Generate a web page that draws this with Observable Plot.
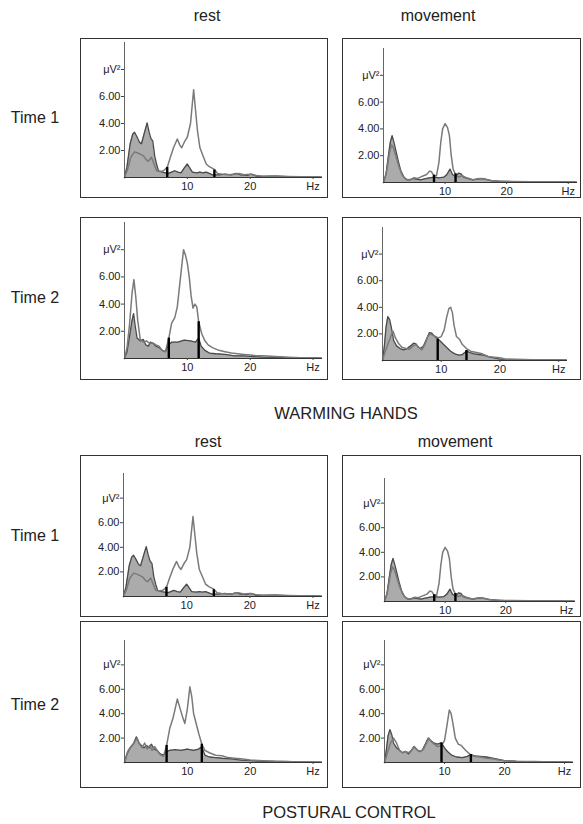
<!DOCTYPE html>
<html><head><meta charset="utf-8">
<script src="https://cdn.jsdelivr.net/npm/d3@7"></script>
<script src="https://cdn.jsdelivr.net/npm/@observablehq/plot@0.6"></script>
<style>
body{margin:0;background:#fff}
#root{position:relative;width:583px;height:824px;font-family:"Liberation Sans",Arial,Helvetica,sans-serif;color:#222;overflow:hidden}
.lbl{position:absolute;transform:translate(-50%,-50%);white-space:nowrap;font-size:16px;line-height:1}
.box{position:absolute;border:1.5px solid #333;box-sizing:border-box;pointer-events:none}
.plot{position:absolute}
</style></head>
<body><div id="root"></div>
<script>
// ---------- text ----------
const columnTitles = ["rest", "movement"];
const rowLabels = ["Time 1", "Time 2"];
const groupTitles = ["WARMING HANDS", "POSTURAL CONTROL"];
const yTicks = [2, 4, 6, 8];
const yTickLabels = ["2.00", "4.00", "6.00", "μV²"];
const xTicks = [10, 20, 30];
const xTickLabels = ["10", "20", "Hz"];

// ---------- spectra: [Hz, µV²] ; A = outlined spectrum, B = grey-filled spectrum ----------
const whRestT1A = [[0,0],[0.5,0.6],[1,1.5],[1.6,1.9],[2.2,1.8],[3,1.6],[3.5,1.3],[3.8,1.2],[4.3,1.5],[4.7,1.0],[5.1,0.5],[5.6,0.45],[6.2,0.5],[6.8,0.75],[7.3,1.5],[7.8,2.2],[8.4,2.85],[8.8,2.4],[9.1,2.2],[9.6,2.7],[10,3.0],[10.5,4.0],[10.8,5.5],[11,6.5],[11.3,5.0],[11.6,3.5],[12,2.2],[12.5,1.6],[13,1.0],[13.5,0.8],[14.3,0.6],[14.8,0.3],[15.5,0.25],[16.5,0.2],[17.5,0.25],[18.2,0.3],[19,0.2],[20,0.25],[21,0.15],[22,0.1],[24,0.12],[26,0.08],[28,0.06],[30,0.05],[31.3,0.03]];
const whRestT1B = [[0,0],[0.4,0.8],[0.9,2.5],[1.3,3.2],[1.6,3.35],[2.0,3.0],[2.4,2.6],[2.7,2.5],[3.1,3.2],[3.6,4.05],[3.9,3.4],[4.2,2.9],[4.5,2.7],[4.8,1.6],[5.1,1.0],[5.4,0.5],[6,0.4],[6.5,0.35],[7,0.3],[7.5,0.4],[8,0.5],[8.5,0.4],[9,0.35],[9.5,0.7],[10,1.0],[10.4,0.7],[10.8,0.4],[11.5,0.35],[12,0.4],[12.5,0.35],[13,0.4],[13.5,0.3],[14,0.2],[15,0.2],[16,0.25],[17,0.2],[17.8,0.3],[18.5,0.2],[19.5,0.15],[20.2,0.25],[21,0.1],[22,0.08],[24,0.1],[26,0.06],[28,0.05],[30,0.04],[31.3,0.03]];
const whRestT1Bands = [[6.8,0.75],[14.3,0.55]];

const whMovT1A = [[0,0],[0.5,0.8],[1,2.3],[1.3,2.8],[1.6,2.6],[2,2.0],[2.5,1.2],[3,0.6],[3.5,0.3],[4,0.2],[4.5,0.25],[5,0.35],[5.5,0.3],[6,0.4],[6.5,0.5],[7,0.6],[7.5,0.85],[7.8,0.8],[8.2,0.5],[8.6,0.5],[9,1.5],[9.3,3.0],[9.6,4.0],[10,4.4],[10.4,4.1],[10.7,3.5],[11,2.0],[11.3,1.0],[11.7,0.6],[12.2,0.4],[12.8,0.5],[13.5,0.35],[14.5,0.2],[15.5,0.3],[16.5,0.25],[17.5,0.15],[19,0.1],[21,0.08],[24,0.06],[27,0.05],[30,0.04],[31.3,0.03]];
const whMovT1B = [[0,0],[0.4,0.6],[0.8,2.0],[1.1,3.0],[1.4,3.5],[1.7,3.0],[2,2.4],[2.4,1.6],[2.8,0.9],[3.3,0.4],[3.8,0.2],[4.3,0.2],[4.8,0.3],[5.3,0.25],[6,0.2],[6.5,0.25],[7,0.3],[7.5,0.35],[8.2,0.4],[9,0.35],[9.8,0.4],[10.3,0.6],[10.8,1.0],[11.2,0.6],[11.7,0.45],[12.2,0.7],[12.6,0.65],[13,0.4],[13.6,0.3],[14.5,0.2],[15.3,0.25],[15.9,0.3],[16.5,0.25],[17.3,0.15],[18.5,0.1],[20,0.06],[23,0.05],[26,0.04],[31.3,0.03]];
const whMovT1Bands = [[8.2,0.55],[11.7,0.65]];

const whRestT2A = [[0,0],[0.4,0.8],[0.8,2.5],[1.2,4.8],[1.5,5.8],[1.8,4.5],[2.1,2.8],[2.5,1.4],[3,1.2],[3.5,1.3],[4,1.1],[4.5,1.15],[5,1.0],[5.5,0.9],[6,0.6],[6.5,0.5],[7.05,1.5],[7.5,2.6],[8,3.0],[8.4,3.8],[8.8,5.5],[9.2,7.2],[9.4,8.0],[9.7,7.6],[10,7.0],[10.3,6.0],[10.6,4.6],[10.9,3.7],[11.2,4.0],[11.5,3.8],[11.8,2.7],[12.3,1.8],[12.8,1.3],[13.3,1.0],[14,0.8],[15,0.6],[16,0.5],[17,0.4],[18,0.35],[19,0.3],[20,0.25],[21,0.2],[22,0.2],[24,0.15],[26,0.1],[28,0.06],[30,0.05],[31.3,0.03]];
const whRestT2B = [[0,0],[0.4,0.5],[0.8,1.6],[1.2,2.8],[1.45,3.3],[1.7,2.4],[2,1.5],[2.5,1.3],[3,1.4],[3.4,1.0],[3.8,0.9],[4.1,1.2],[4.6,1.1],[5,0.9],[5.5,0.8],[6,0.6],[6.5,0.5],[7,1.0],[7.5,1.2],[8.5,1.2],[9.5,1.35],[10.5,1.3],[11.3,1.2],[11.8,1.5],[12.2,0.9],[12.8,0.6],[13.5,0.4],[14.5,0.35],[16,0.3],[17.5,0.2],[19,0.2],[20,0.15],[22,0.1],[25,0.08],[28,0.05],[31.3,0.03]];
const whRestT2Bands = [[7.05,1.5],[11.8,2.7]];

const whMovT2A = [[0,0],[0.4,0.6],[0.9,1.2],[1.4,1.8],[1.8,2.2],[2.2,1.7],[2.7,1.3],[3.3,1.0],[4,0.9],[4.6,0.85],[5.2,1.1],[5.7,1.2],[6.2,1.0],[6.7,0.8],[7.2,1.2],[7.7,1.8],[8.1,2.0],[8.6,1.9],[9.1,1.8],[9.5,1.7],[10,1.8],[10.5,2.3],[10.9,3.2],[11.3,3.9],[11.6,4.0],[11.9,3.6],[12.2,2.6],[12.6,1.8],[13.1,1.6],[13.6,1.2],[14.3,0.9],[15,0.7],[16,0.6],[17,0.5],[18,0.3],[19,0.25],[20,0.2],[21,0.1],[23,0.08],[26,0.06],[28,0.05],[31.3,0.03]];
const whMovT2B = [[0,0],[0.3,1.0],[0.6,2.5],[0.9,3.3],[1.2,3.1],[1.5,2.5],[1.9,1.5],[2.4,1.1],[3,0.9],[3.6,0.8],[4.2,0.9],[4.8,1.1],[5.3,1.3],[5.7,1.25],[6.1,1.0],[6.5,0.9],[7,1.1],[7.5,1.6],[8,2.1],[8.4,2.05],[8.9,1.8],[9.5,1.6],[10.2,1.3],[10.9,1.0],[11.6,0.7],[12.3,0.5],[13,0.4],[13.6,0.45],[14.3,0.7],[14.9,0.6],[15.6,0.5],[16.4,0.45],[17.2,0.4],[18,0.3],[19,0.2],[20,0.1],[22,0.08],[25,0.06],[28,0.05],[31.3,0.03]];
const whMovT2Bands = [[9.4,1.6],[14.3,0.75]];

const pcRestT1A = whRestT1A;   // identical spectrum in the figure
const pcRestT1B = whRestT1B;
const pcRestT1Bands = [[6.8,0.75],[14.3,0.55]];

const pcMovT1A = whMovT1A;     // identical spectrum in the figure
const pcMovT1B = whMovT1B;
const pcMovT1Bands = [[8.2,0.55],[11.7,0.65]];

const pcRestT2A = [[0,0],[0.5,0.9],[1,1.3],[1.5,1.6],[2,2.0],[2.4,1.5],[2.8,1.2],[3.2,1.6],[3.6,1.1],[4,1.4],[4.4,1.0],[4.8,1.3],[5.3,0.9],[5.8,0.6],[6.2,0.5],[6.7,1.4],[7.2,2.8],[7.7,3.6],[8.1,4.5],[8.4,5.2],[8.8,4.5],[9.2,3.8],[9.6,3.2],[10,4.4],[10.4,6.2],[10.7,5.4],[11,4.0],[11.4,3.2],[11.8,2.4],[12.3,1.5],[12.8,1.0],[13.5,0.8],[14.5,0.6],[15.5,0.55],[16.5,0.4],[17.5,0.35],[18.5,0.3],[20,0.2],[22,0.15],[24,0.1],[27,0.06],[31.3,0.03]];
const pcRestT2B = [[0,0],[0.4,0.7],[0.9,1.2],[1.4,1.5],[1.9,2.1],[2.3,1.6],[2.7,1.4],[3.1,1.2],[3.5,1.4],[3.9,1.2],[4.3,1.5],[4.7,1.1],[5.2,1.0],[5.7,0.7],[6.2,0.6],[6.7,0.9],[7.2,1.0],[8,1.05],[9,1.0],[10,1.1],[11,1.0],[11.8,1.1],[12.3,1.3],[12.8,0.6],[13.5,0.45],[14.5,0.4],[15.5,0.35],[17,0.3],[18.5,0.2],[20,0.15],[22,0.1],[25,0.08],[28,0.05],[31.3,0.03]];
const pcRestT2Bands = [[6.7,1.4],[12.3,1.5]];

const pcMovT2A = [[0,0],[0.5,0.8],[1,1.6],[1.5,2.0],[2,1.6],[2.5,1.0],[3,0.8],[3.5,0.9],[4,0.8],[4.5,1.0],[5,1.3],[5.5,1.0],[6,0.9],[6.5,1.1],[7,1.6],[7.4,2.0],[7.8,1.7],[8.3,1.5],[8.8,1.3],[9.5,1.4],[10,1.8],[10.4,3.0],[10.8,4.3],[11.1,4.0],[11.4,3.2],[11.8,2.0],[12.3,1.5],[12.8,1.4],[13.5,1.0],[14.4,0.6],[15,0.5],[16,0.45],[17,0.35],[18,0.3],[19,0.2],[20,0.15],[22,0.1],[25,0.08],[28,0.05],[31.3,0.03]];
const pcMovT2B = [[0,0],[0.3,1.0],[0.6,2.2],[0.9,2.7],[1.2,2.3],[1.5,1.6],[2,1.2],[2.5,1.0],[3,0.8],[3.5,0.9],[4,0.7],[4.5,1.0],[4.9,1.3],[5.3,1.1],[5.8,0.9],[6.3,1.0],[6.8,1.5],[7.3,2.0],[7.7,1.8],[8.2,1.6],[8.8,1.5],[9.5,1.6],[10,1.2],[10.5,0.9],[11.2,0.6],[12,0.45],[13,0.4],[13.8,0.5],[14.4,0.65],[15,0.55],[16,0.5],[17,0.45],[18,0.35],[19,0.25],[20,0.15],[22,0.1],[25,0.07],[28,0.05],[31.3,0.03]];
const pcMovT2Bands = [[9.5,1.6],[14.4,0.65]];

// ---------- layout ----------
const root = document.getElementById("root");
function label(text, x, y, size) {
  const d = document.createElement("div");
  d.className = "lbl"; d.textContent = text;
  d.style.left = x + "px"; d.style.top = y + "px"; d.style.fontSize = size + "px";
  root.appendChild(d);
}
const toObj = arr => arr.map(([f, v]) => ({f, v}));

function panel(A, B, bands, box, m) {
  const [bx, by, bw, bh] = box;
  const [mt, mr, mb, ml] = m;
  const svg = Plot.plot({
    width: bw, height: bh,
    marginTop: mt, marginRight: mr, marginBottom: mb, marginLeft: ml,
    x: {domain: [0, 31.5], label: null},
    y: {domain: [0, 10], label: null},
    style: {fontFamily: '"Liberation Sans", Arial, Helvetica, sans-serif', fontSize: "11px", background: "transparent", color: "#222", overflow: "visible"},
    marks: [
      Plot.areaY(toObj(B), {x: "f", y: "v", fill: "#ababab"}),
      Plot.lineY(toObj(B), {x: "f", y: "v", stroke: "#4a4a4a", strokeWidth: 1.3}),
      Plot.lineY(toObj(A), {x: "f", y: "v", stroke: "#7a7a7a", strokeWidth: 1.5}),
      Plot.ruleX(toObj(bands), {x: "f", y1: 0, y2: "v", stroke: "#000", strokeWidth: 2.4}),
      Plot.ruleX([0], {y1: 0, y2: 10, stroke: "#666", strokeWidth: 1}),
      Plot.ruleY([0], {x1: 0, x2: 31.5, stroke: "#333", strokeWidth: 1.2}),
      Plot.axisY({ticks: yTicks, tickFormat: d => yTickLabels[yTicks.indexOf(d)], tickSize: 3, tickPadding: 1, stroke: "#444", label: null}),
      Plot.axisX({ticks: xTicks, tickFormat: d => xTickLabels[xTicks.indexOf(d)], tickSize: 2, tickPadding: 3, stroke: "#444", label: null})
    ]
  });
  svg.classList.add("plot");
  svg.style.left = bx + "px"; svg.style.top = by + "px";
  root.appendChild(svg);
  const b = document.createElement("div");
  b.className = "box";
  b.style.left = bx + "px"; b.style.top = by + "px";
  b.style.width = bw + "px"; b.style.height = bh + "px";
  root.appendChild(b);
}

// column / row geometry
const LX = 80, LW = 248, RX = 342, RW = 239;

panel(whRestT1A, whRestT1B, whRestT1Bands, [LX, 38, LW, 160], [4, 6, 21, 44]);
panel(whMovT1A, whMovT1B, whMovT1Bands, [RX, 38, RW, 160], [10, 4, 16, 41]);
panel(whRestT2A, whRestT2B, whRestT2Bands, [LX, 217, LW, 163], [5, 6, 22, 44]);
panel(whMovT2A, whMovT2B, whMovT2Bands, [RX, 217, RW, 163], [10, 14, 20, 40]);
panel(pcRestT1A, pcRestT1B, pcRestT1Bands, [LX, 455, LW, 162], [18, 6, 21, 43]);
panel(pcMovT1A, pcMovT1B, pcMovT1Bands, [RX, 455, RW, 162], [23, 6, 16, 42]);
panel(pcRestT2A, pcRestT2B, pcRestT2Bands, [LX, 621, LW, 167], [19, 6, 26, 44]);
panel(pcMovT2A, pcMovT2B, pcMovT2Bands, [RX, 621, RW, 167], [19, 8, 26, 42]);

label(columnTitles[0], 207, 16, 16);
label(columnTitles[1], 438, 16, 16);
label(rowLabels[0], 35, 118, 16);
label(rowLabels[1], 35, 298, 16);
label(groupTitles[0], 346, 413, 16.5);
label(columnTitles[0], 208, 442, 16);
label(columnTitles[1], 455, 442, 16);
label(rowLabels[0], 35, 536, 16);
label(rowLabels[1], 35, 705, 16);
label(groupTitles[1], 349, 812, 16.5);
</script></body></html>
